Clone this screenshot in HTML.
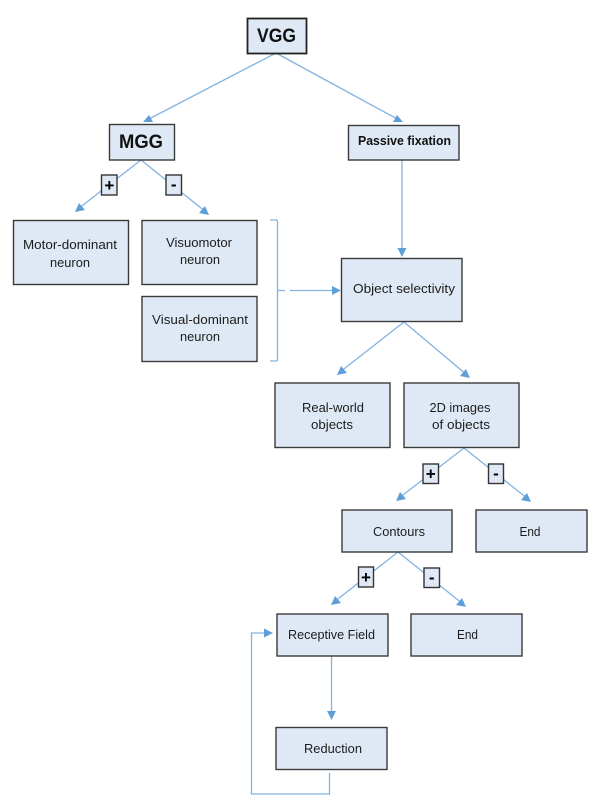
<!DOCTYPE html>
<html>
<head>
<meta charset="utf-8">
<style>
html,body{margin:0;padding:0;background:#fff;width:600px;height:810px;overflow:hidden}
svg{display:block}
text{font-family:"Liberation Sans",sans-serif;fill:#1c1c1c;text-anchor:middle}
.b{fill:#dfe9f5;stroke:#3a3a3a;stroke-width:1.4}
.s{fill:#dfe9f5;stroke:#333;stroke-width:1.4}
.l{fill:none;stroke:#82b3e2;stroke-width:1.3}
.a{fill:#5f9fd8}
</style>
</head>
<body>
<svg width="600" height="810" viewBox="0 0 600 810" xmlns="http://www.w3.org/2000/svg">
<!-- connectors -->
<path class="l" d="M276 53L146 120.500"/>
<path class="l" d="M276 53L400 120.500"/>
<path class="l" d="M141 160L78 209"/>
<path class="l" d="M141 160L206 212"/>
<path class="l" d="M402 160V253"/>
<path class="l" d="M270 220H276Q277.500 220 277.500 222V359Q277.500 361 276 361H270"/>
<path class="l" d="M277.500 290.500H285M290 290.500H336"/>
<path class="l" d="M404 322L340 372"/>
<path class="l" d="M404 322L467 375"/>
<path class="l" d="M464 448L399 498"/>
<path class="l" d="M464 448L528 499"/>
<path class="l" d="M398 552L334 602"/>
<path class="l" d="M398 552L463 604"/>
<path class="l" d="M331.500 656V716"/>
<path class="l" d="M329.500 773V794H251.500V633H270"/>
<!-- arrowheads -->
<polygon class="a" points="143,122 149,115 153,122"/>
<polygon class="a" points="403,122 397,115 393,122"/>
<polygon class="a" points="75,212 79,203 85,210"/>
<polygon class="a" points="209,215 205,206 199,213"/>
<polygon class="a" points="402,257 397.500,248 406.500,248"/>
<polygon class="a" points="341,290.500 332,286 332,295"/>
<polygon class="a" points="337,375 341,366 347,373"/>
<polygon class="a" points="470,378 466,369 460,376"/>
<polygon class="a" points="396,501 400,492 406,499"/>
<polygon class="a" points="531,502 527,493 521,500"/>
<polygon class="a" points="331,605 335,596 341,603"/>
<polygon class="a" points="466,607 462,598 456,605"/>
<polygon class="a" points="331.500,720 327,711 336,711"/>
<polygon class="a" points="273,633 264,628.500 264,637.500"/>
<!-- boxes -->
<rect x="247.500" y="18.500" width="59" height="35" fill="#dfe9f5" stroke="#222" stroke-width="1.800"/>
<rect class="b" x="109.500" y="124.500" width="65" height="35.500"/>
<rect class="b" x="348.500" y="125.500" width="110.500" height="34.500"/>
<rect class="b" x="13.500" y="220.500" width="115" height="64"/>
<rect class="b" x="142" y="220.500" width="115" height="64"/>
<rect class="b" x="142" y="296.500" width="115" height="65"/>
<rect class="b" x="341.500" y="258.500" width="120.500" height="63"/>
<rect class="b" x="275" y="383" width="115" height="64.500"/>
<rect class="b" x="404" y="383" width="115" height="64.500"/>
<rect class="b" x="342" y="510" width="110" height="42"/>
<rect class="b" x="476" y="510" width="111" height="42"/>
<rect class="b" x="277" y="614" width="111" height="42"/>
<rect class="b" x="411" y="614" width="111" height="42"/>
<rect class="b" x="276" y="727.500" width="111" height="42"/>
<!-- sign boxes -->
<rect class="s" x="101.500" y="175" width="15.500" height="20"/>
<rect class="s" x="166" y="175" width="15.500" height="20"/>
<rect class="s" x="423" y="464" width="15.500" height="19.500"/>
<rect class="s" x="488.500" y="464" width="15" height="19.500"/>
<rect class="s" x="358.500" y="567" width="15" height="20"/>
<rect class="s" x="424" y="568" width="15.500" height="19.500"/>
<!-- labels -->
<text x="276.500" y="42" font-size="19.500" font-weight="700" textLength="39" lengthAdjust="spacingAndGlyphs" style="fill:#111">VGG</text>
<text x="141" y="148" font-size="19.500" font-weight="700" textLength="44" lengthAdjust="spacingAndGlyphs" style="fill:#111">MGG</text>
<text x="404.500" y="145" font-size="12.500" font-weight="700" textLength="93" lengthAdjust="spacingAndGlyphs" style="fill:#111">Passive fixation</text>
<text x="70" y="249" font-size="12.500" textLength="94" lengthAdjust="spacingAndGlyphs">Motor-dominant</text>
<text x="70" y="267" font-size="12.500" textLength="40" lengthAdjust="spacingAndGlyphs">neuron</text>
<text x="199" y="247" font-size="12.500" textLength="66" lengthAdjust="spacingAndGlyphs">Visuomotor</text>
<text x="200" y="264" font-size="12.500" textLength="40" lengthAdjust="spacingAndGlyphs">neuron</text>
<text x="200" y="324" font-size="12.500" textLength="96" lengthAdjust="spacingAndGlyphs">Visual-dominant</text>
<text x="200" y="341" font-size="12.500" textLength="40" lengthAdjust="spacingAndGlyphs">neuron</text>
<text x="404" y="293" font-size="12.500" textLength="102" lengthAdjust="spacingAndGlyphs">Object selectivity</text>
<text x="333" y="412" font-size="12.500" textLength="62" lengthAdjust="spacingAndGlyphs">Real-world</text>
<text x="332" y="429" font-size="12.500" textLength="42" lengthAdjust="spacingAndGlyphs">objects</text>
<text x="460" y="412" font-size="12.500" textLength="61" lengthAdjust="spacingAndGlyphs">2D images</text>
<text x="461" y="429" font-size="12.500" textLength="58" lengthAdjust="spacingAndGlyphs">of objects</text>
<text x="399" y="536" font-size="12.500" textLength="52" lengthAdjust="spacingAndGlyphs">Contours</text>
<text x="530" y="536" font-size="12.500" textLength="21" lengthAdjust="spacingAndGlyphs">End</text>
<text x="331.500" y="639" font-size="12.500" textLength="87" lengthAdjust="spacingAndGlyphs">Receptive Field</text>
<text x="467.500" y="639" font-size="12.500" textLength="21" lengthAdjust="spacingAndGlyphs">End</text>
<text x="333" y="753" font-size="12.500" textLength="58" lengthAdjust="spacingAndGlyphs">Reduction</text>
<!-- signs -->
<text x="109.300" y="191" font-size="17" font-weight="700" style="fill:#000">+</text>
<text x="173.700" y="190" font-size="17" font-weight="700" style="fill:#000">-</text>
<text x="430.700" y="479.500" font-size="17" font-weight="700" style="fill:#000">+</text>
<text x="496" y="479" font-size="17" font-weight="700" style="fill:#000">-</text>
<text x="366" y="583" font-size="17" font-weight="700" style="fill:#000">+</text>
<text x="431.700" y="583" font-size="17" font-weight="700" style="fill:#000">-</text>
</svg>
</body>
</html>
